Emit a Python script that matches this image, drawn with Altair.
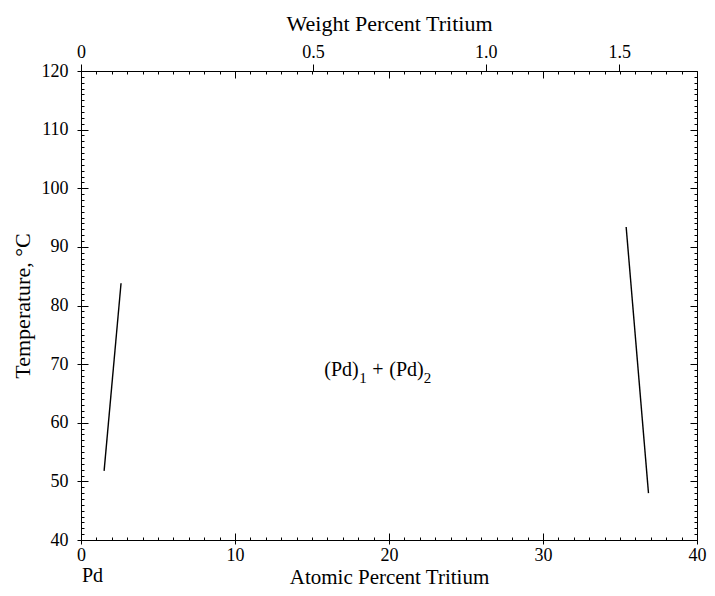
import altair as alt
import pandas as pd

# ---- data ----
left_at = [1.5, 2.6]          # atomic % T, left boundary line
left_temp = [51.8, 83.8]      # deg C
right_at = [35.4, 36.85]      # atomic % T, right boundary line
right_temp = [93.4, 48.0]

x_ticks = [0, 10, 20, 30, 40]
x_minor = list(range(0, 41))
y_ticks = [40, 50, 60, 70, 80, 90, 100, 110, 120]
y_minor = list(range(40, 121))

wt_labels = ["0", "0.5", "1.0", "1.5"]
wt_values = [0.0, 0.5, 1.0, 1.5]

# conversion weight % T -> atomic % T (Pd 106.42, T 3.016)
M_T, M_PD = 3.016, 106.42
wt_pos = [0.0 if w == 0 else 100 * (w / M_T) / (w / M_T + (100 - w) / M_PD) for w in wt_values]

W, H = 616, 469
FONT = "Liberation Serif"

lines = pd.DataFrame({
    "at": left_at + right_at,
    "T": left_temp + right_temp,
    "seg": ["L", "L", "R", "R"],
})

xs = alt.Scale(domain=[0, 40], nice=False, zero=False)
ys = alt.Scale(domain=[40, 120], nice=False, zero=False)

base = alt.Chart(lines)

common_axis = dict(labelFont=FONT, titleFont=FONT, labelFontSize=18,
                   labelColor="black", titleColor="black", domainColor="black",
                   tickColor="black", titleFontWeight="normal", grid=False)

main = base.mark_line(color="black", strokeWidth=1.4).encode(
    x=alt.X("at:Q", scale=xs, axis=alt.Axis(
        orient="bottom", values=x_ticks, tickSize=4, labelPadding=2, labelFlush=False,
        title="Atomic Percent Tritium", titleFontSize=21, titleBaseline="alphabetic", titleY=43.3,
        format="d", **common_axis)),
    y=alt.Y("T:Q", scale=ys, axis=alt.Axis(
        orient="left", values=y_ticks, tickSize=4, labelPadding=9,
        title="Temperature, °C", titleFontSize=22, titleBaseline="middle", titleX=-59,
        format="d", **common_axis)),
    detail="seg:N",
)

top = base.mark_point(opacity=0).encode(
    x=alt.X("at:Q", scale=xs, axis=alt.Axis(
        orient="top", values=wt_pos, tickSize=7, labelPadding=3, labelFlush=False,
        labelExpr="datum.value < 1 ? '0' : datum.value < 20 ? '0.5' : datum.value < 30 ? '1.0' : '1.5'",
        title="Weight Percent Tritium", titleFontSize=22, titleBaseline="alphabetic", titleY=-41,
        **common_axis)),
    y=alt.Y("T:Q", scale=ys, axis=alt.Axis(
        orient="right", values=y_ticks, ticks=False, labels=False, title=None,
        domainColor="black", grid=False)),
)

minor_size = {"condition": {"test": "datum.value % 10 === 0", "value": 7}, "value": 3}

in1 = base.mark_point(opacity=0).encode(
    x=alt.X("at:Q", scale=xs, axis=alt.Axis(
        orient="top", offset=-H, values=x_minor, tickSize=minor_size, labels=False,
        domain=False, title=None, tickColor="black", grid=False)),
    y=alt.Y("T:Q", scale=ys, axis=alt.Axis(
        orient="right", offset=-W, values=y_minor, tickSize=minor_size, labels=False,
        domain=False, title=None, tickColor="black", grid=False)),
)

in2 = base.mark_point(opacity=0).encode(
    x=alt.X("at:Q", scale=xs, axis=alt.Axis(
        orient="bottom", offset=-H, values=x_minor, tickSize=minor_size, labels=False,
        domain=False, title=None, tickColor="black", grid=False)),
    y=alt.Y("T:Q", scale=ys, axis=alt.Axis(
        orient="left", offset=-W, values=y_minor, tickSize=minor_size, labels=False,
        domain=False, title=None, tickColor="black", grid=False)),
)

# phase label anchor
lab = pd.DataFrame({"at": [15.8], "T": [68.0]})
lab_base = alt.Chart(lab).encode(
    x=alt.X("at:Q", scale=xs, axis=None), y=alt.Y("T:Q", scale=ys, axis=None))
txt = dict(font=FONT, align="left", baseline="alphabetic", color="black")
t1 = lab_base.mark_text(text="(Pd)", fontSize=20, **txt)
t2 = lab_base.mark_text(text="1", fontSize=15, dx=35, dy=7, **txt)
t3 = lab_base.mark_text(text="+", fontSize=20, dx=48, **txt)
t4 = lab_base.mark_text(text="(Pd)", fontSize=20, dx=65, **txt)
t5 = lab_base.mark_text(text="2", fontSize=15, dx=99.5, dy=7, **txt)

pd_df = pd.DataFrame({"at": [0.0], "T": [40.0]})
pd_lab = alt.Chart(pd_df).mark_text(text="Pd", fontSize=20, dx=1, dy=42, **txt).encode(
    x=alt.X("at:Q", scale=xs, axis=None), y=alt.Y("T:Q", scale=ys, axis=None))

chart = alt.layer(main, top, in1, in2, t1, t2, t3, t4, t5, pd_lab).resolve_axis(
    x="independent", y="independent"
).properties(
    width=W, height=H,
    autosize=alt.AutoSizeParams(type="none"),
    padding={"left": 73, "top": 63, "right": 10, "bottom": 48},
).configure_view(stroke=None).configure(background="white")

chart.save("out.html", embed_options={"renderer": "svg", "actions": False})
